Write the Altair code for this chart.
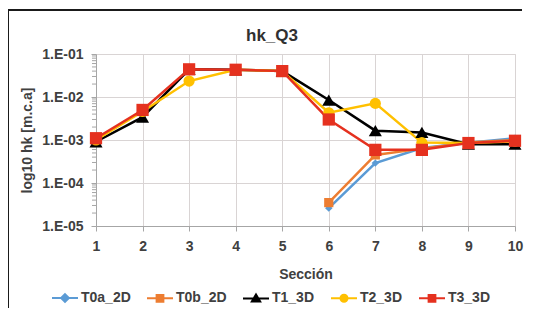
import altair as alt
import pandas as pd

sections = [1, 2, 3, 4, 5, 6, 7, 8, 9, 10]
series_names = ["T0a_2D", "T0b_2D", "T1_3D", "T2_3D", "T3_3D"]
t0a_2d = [None, None, None, None, None, 2.6e-5, 2.9e-4, 6.5e-4, 8.6e-4, 1.1e-3]
t0b_2d = [None, None, None, None, None, 3.5e-5, 4.5e-4, 6.3e-4, 8.8e-4, 1.0e-3]
t1_3d = [9.1e-4, 3.4e-3, 4.4e-2, 4.3e-2, 4.0e-2, 8.5e-3, 1.65e-3, 1.5e-3, 8.0e-4, 8.0e-4]
t2_3d = [1.0e-3, 4.6e-3, 2.35e-2, 4.3e-2, 4.0e-2, 4.3e-3, 7.1e-3, 8.7e-4, 8.5e-4, 9.3e-4]
t3_3d = [1.1e-3, 5.0e-3, 4.4e-2, 4.3e-2, 4.0e-2, 3.0e-3, 5.9e-4, 5.9e-4, 8.5e-4, 9.6e-4]
y_ticks = [1e-5, 1e-4, 1e-3, 1e-2, 1e-1]
chart_title = "hk_Q3"

colors = ["#5B9BD5", "#ED7D31", "#000000", "#FFC000", "#E5311F"]
shapes = ["diamond", "square", "triangle-up", "circle", "square"]
sizes = [55, 85, 170, 125, 150]
legend_paths = [
    "M-1,0H1M0,-0.3L0.3,0L0,0.3L-0.3,0Z",
    "M-1,0H1M-0.26,-0.26H0.26V0.26H-0.26Z",
    "M-1,0H1M0,-0.3L0.32,0.24H-0.32Z",
    "M-1,0H1M-0.27,0A0.27,0.27,0,1,0,0.27,0A0.27,0.27,0,1,0,-0.27,0Z",
    "M-1,0H1M-0.26,-0.26H0.26V0.26H-0.26Z",
]
minor_ticks = [m * 10.0 ** e for e in range(-5, -1) for m in range(2, 10)]

rows = []
for name, vals in zip(series_names, [t0a_2d, t0b_2d, t1_3d, t2_3d, t3_3d]):
    for s, v in zip(sections, vals):
        if v is not None:
            rows.append({"Sección": s, "hk": v, "serie": name})
df = pd.DataFrame(rows)

W, H = 419, 172
FONT = "Liberation Sans"
TXT = "#404040"

yscale = alt.Scale(type="log", domain=[1e-5, 1e-1], nice=False)
xenc = alt.X("Sección:Q", scale=alt.Scale(domain=[1, 10], nice=False, zero=False),
             axis=alt.Axis(values=sections, title="Sección", grid=True, gridColor="#d9d4d4",
                           domainColor="#a6a6a6", tickColor="#a6a6a6", tickSize=5, labelFlush=False,
                           labelFontSize=14, labelFont=FONT, labelFontWeight="bold", labelColor=TXT,
                           labelPadding=8, titleFontSize=14, titleFont=FONT, titleFontWeight="bold",
                           titleColor=TXT, titlePadding=14))
yenc = alt.Y("hk:Q", scale=yscale,
             axis=alt.Axis(values=y_ticks, title="log10 hk [m.c.a]", grid=True, gridColor="#d9d4d4",
                           domainColor="#a6a6a6", tickColor="#a6a6a6", tickSize=5, labelFlush=False,
                           labelExpr="'1.E-0' + format(-log(datum.value)/LN10, '.0f')",
                           labelFontSize=14, labelFont=FONT, labelFontWeight="bold", labelColor=TXT,
                           labelPadding=8, titleFontSize=14, titleFont=FONT, titleFontWeight="bold",
                           titleColor=TXT, titlePadding=7))

base = alt.Chart(df)

line_layers = []
point_layers = []
for name, col, shp, sz in zip(series_names, colors, shapes, sizes):
    sub = base.transform_filter(alt.datum.serie == name)
    line_layers.append(sub.mark_line(strokeWidth=2.5, color=col).encode(x=xenc, y=yenc))
    point_layers.append(
        sub.mark_point(filled=True, opacity=1, shape=shp, size=sz, color=col, strokeWidth=1)
        .encode(x=xenc, y=yenc)
    )

leg = alt.Legend(title=None, orient="none", direction="horizontal", legendX=-45, legendY=230,
                 labelFont=FONT, labelFontSize=14, labelFontWeight="bold", labelColor=TXT,
                 symbolSize=676, symbolStrokeWidth=2, labelOffset=2, columnPadding=12,
                 symbolOpacity=1)

legend_layer = base.mark_point(filled=True, opacity=0).encode(
    x=xenc, y=yenc,
    color=alt.Color("serie:N", scale=alt.Scale(domain=series_names, range=colors), legend=leg),
    stroke=alt.Stroke("serie:N", scale=alt.Scale(domain=series_names, range=colors), legend=leg),
    shape=alt.Shape("serie:N", scale=alt.Scale(domain=series_names, range=legend_paths), legend=leg),
)

minor = alt.Chart(pd.DataFrame({"m": minor_ticks})).mark_rule(color="#a6a6a6", strokeWidth=1).encode(
    y=alt.Y("m:Q", scale=yscale),
    x=alt.value(-4), x2=alt.value(0),
)

title_text = alt.Chart(pd.DataFrame({"t": [chart_title]})).mark_text(
    font=FONT, fontSize=17, fontWeight="bold", color="#303030", baseline="middle", align="center"
).encode(text="t:N", x=alt.value(176), y=alt.value(-18))

one = pd.DataFrame({"a": [0]})
frame_top = alt.Chart(one).mark_rule(color="#1a1a1a", strokeWidth=2).encode(
    x=alt.value(-88), x2=alt.value(426), y=alt.value(-44))
frame_left = alt.Chart(one).mark_rule(color="#1a1a1a", strokeWidth=2).encode(
    x=alt.value(-88), y=alt.value(-44), y2=alt.value(262))

chart = alt.layer(minor, *line_layers, *point_layers, legend_layer, title_text,
                  frame_top, frame_left).properties(
    width=W, height=H,
    autosize=alt.AutoSizeParams(type="none"),
    padding={"left": 88, "top": 46, "right": 10, "bottom": 82},
).configure_view(stroke=None).configure(background="white")

chart.save("out.html", embed_options={"renderer": "svg", "actions": False})
